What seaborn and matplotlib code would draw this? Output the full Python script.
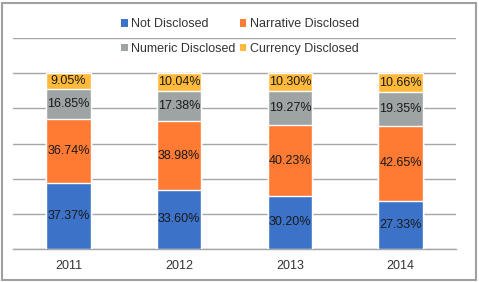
import numpy as np
import pandas as pd
import seaborn as sns
from matplotlib import pyplot as plt
from matplotlib.patches import Rectangle, Patch

## data
years = ['2011', '2012', '2013', '2014']
series = ['Not Disclosed', 'Narrative Disclosed', 'Numeric Disclosed', 'Currency Disclosed']
not_disclosed = [37.37, 33.60, 30.20, 27.33]
narrative_disclosed = [36.74, 38.98, 40.23, 42.65]
numeric_disclosed = [16.85, 17.38, 19.27, 19.35]
currency_disclosed = [9.05, 10.04, 10.30, 10.66]
colors = ['#3c73c8', '#ff7a33', '#9ea3a3', '#ffba3c']

values = np.array([not_disclosed, narrative_disclosed, numeric_disclosed, currency_disclosed])
cum = np.cumsum(values, axis=0)

sns.set_style('white')
plt.rcParams['font.family'] = ['Liberation Sans', 'DejaVu Sans']

fig = plt.figure(figsize=(4.79, 2.82), dpi=100)
ax = fig.add_axes([13/479, 1-249/282, (456-13)/479, (249-38)/282])

## stack by overplotting cumulative totals, top series first
for i in range(len(series)-1, -1, -1):
    df = pd.DataFrame({'year': years, 'total': cum[i]})
    sns.barplot(data=df, x='year', y='total', color=colors[i], width=0.4,
                saturation=1, ax=ax, zorder=3)

for i in range(len(series)):
    bottoms = cum[i] - values[i]
    for j in range(len(years)):
        ax.text(j, bottoms[j] + values[i][j]/2, '%.2f%%' % values[i][j],
                ha='center', va='center', fontsize=9, color='#1a1a1a', zorder=4)

ax.set_ylim(0, 120)
ax.set_xlim(-0.5, 3.5)
ax.set_yticks([0, 20, 40, 60, 80, 100, 120])
ax.yaxis.grid(True, color='#a6a6a6', linewidth=1, zorder=0)
ax.set_yticklabels([])
ax.tick_params(axis='y', length=0)
ax.set_xlabel('')
ax.set_ylabel('')
for s in ['top', 'right', 'left']:
    ax.spines[s].set_visible(False)
ax.spines['bottom'].set_color('#a6a6a6')
ax.spines['bottom'].set_linewidth(1)
ax.set_xticks([-0.5, 0.5, 1.5, 2.5, 3.5], minor=True)
ax.tick_params(axis='x', which='major', length=0, labelsize=9, labelcolor='#333333', pad=8)
ax.tick_params(axis='x', which='minor', length=4, color='#a6a6a6', width=1, direction='out')

## legend, row-major order across two columns
order = [0, 2, 1, 3]
handles = [Patch(facecolor=colors[k], edgecolor='none') for k in order]
labels = [series[k] for k in order]
fig.legend(handles, labels, ncol=2, loc='center', bbox_to_anchor=(240/479, 1-36.5/282),
           frameon=False, fontsize=9, handlelength=0.55, handleheight=0.55,
           handletextpad=0.3, columnspacing=0.3, labelspacing=1.0,
           labelcolor='#333333')

fig.patches.append(Rectangle((2/479, 2/282), 474/479, 277/282, transform=fig.transFigure,
                             fill=False, edgecolor='#a0a0a0', linewidth=1.5))

fig.savefig('out.png', dpi=100)
